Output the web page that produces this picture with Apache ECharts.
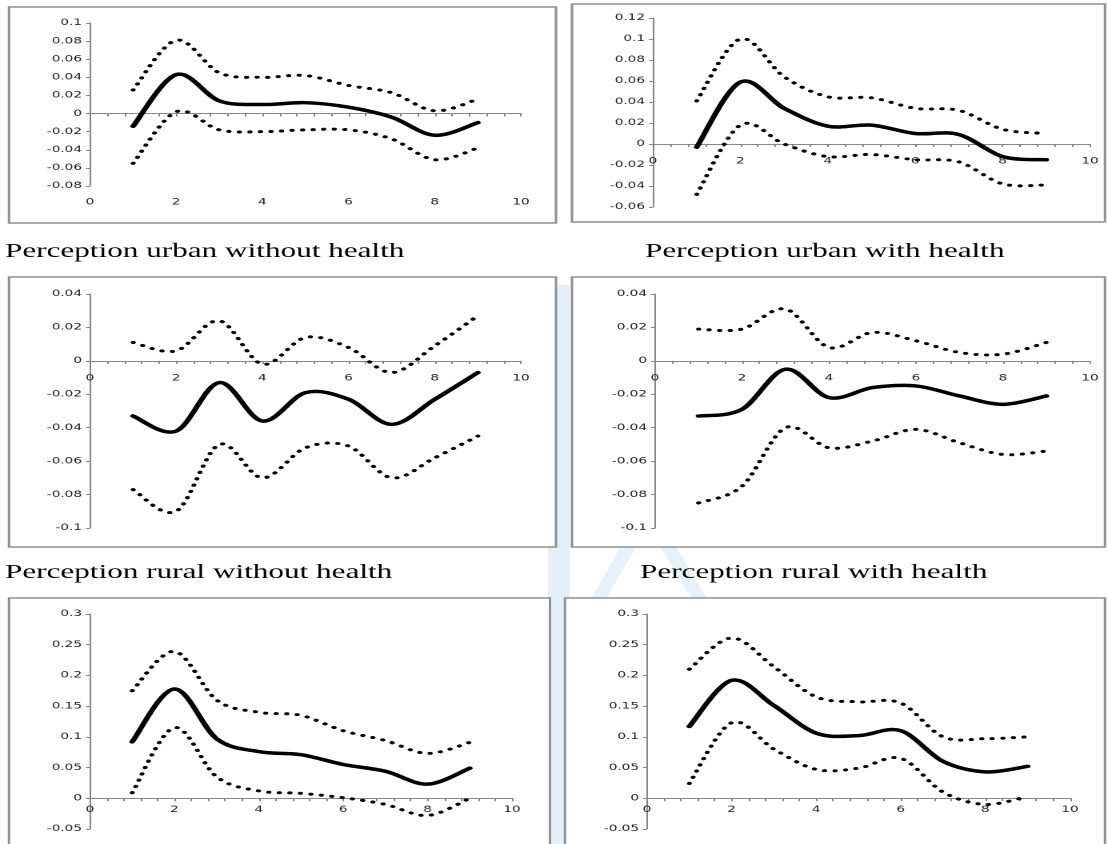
<!DOCTYPE html>
<html><head><meta charset="utf-8">
<script src="https://cdn.jsdelivr.net/npm/echarts@6/dist/echarts.min.js"></script>
<style>
html,body{margin:0;padding:0;background:#fff;overflow:hidden;width:1108px;height:844px}
#wrap{position:absolute;left:0;top:0;width:1108px;height:844px;overflow:hidden}
#chart{position:absolute;left:0;top:0;height:844px;transform-origin:0 0}
</style></head>
<body><div id="wrap"><div id="chart"></div></div>
<script>
// ---------- data ----------
const xs = [1, 2, 3, 4, 5, 6, 7, 8, 9];

const captions = [
  'Perception urban without health',
  'Perception urban with health',
  'Perception rural without health',
  'Perception rural with health'
];

// Panel 1 (top-left)
const p1Upper = [0.026, 0.081, 0.045, 0.040, 0.042, 0.031, 0.023, 0.003, 0.016];
const p1Mid   = [-0.014, 0.043, 0.014, 0.010, 0.012, 0.007, -0.004, -0.024, -0.010];
const p1Lower = [-0.055, 0.002, -0.018, -0.020, -0.018, -0.018, -0.028, -0.051, -0.038];
// Panel 2 (top-right)
const p2Upper = [0.041, 0.100, 0.064, 0.045, 0.044, 0.034, 0.032, 0.014, 0.010];
const p2Mid   = [-0.003, 0.059, 0.034, 0.017, 0.018, 0.010, 0.009, -0.012, -0.015];
const p2Lower = [-0.048, 0.018, 0.000, -0.012, -0.010, -0.015, -0.017, -0.038, -0.039];
// Panel 3 (middle-left)
const p3Upper = [0.011, 0.006, 0.024, -0.002, 0.014, 0.008, -0.007, 0.009, 0.027];
const p3Mid   = [-0.033, -0.042, -0.013, -0.036, -0.019, -0.023, -0.038, -0.023, -0.007];
const p3Lower = [-0.077, -0.090, -0.050, -0.070, -0.052, -0.051, -0.070, -0.058, -0.045];
// Panel 4 (middle-right)
const p4Upper = [0.019, 0.019, 0.031, 0.008, 0.017, 0.012, 0.005, 0.004, 0.011];
const p4Mid   = [-0.033, -0.029, -0.005, -0.022, -0.016, -0.015, -0.021, -0.026, -0.021];
const p4Lower = [-0.085, -0.075, -0.040, -0.052, -0.048, -0.041, -0.049, -0.056, -0.054];
// Panel 5 (bottom-left)
const p5Upper = [0.175, 0.239, 0.160, 0.140, 0.135, 0.110, 0.094, 0.073, 0.091];
const p5Mid   = [0.092, 0.178, 0.097, 0.076, 0.071, 0.055, 0.044, 0.023, 0.049];
const p5Lower = [0.009, 0.115, 0.035, 0.012, 0.008, 0.001, -0.010, -0.028, 0.000];
// Panel 6 (bottom-right)
const p6Upper = [0.210, 0.261, 0.214, 0.165, 0.157, 0.155, 0.100, 0.097, 0.100];
const p6Mid   = [0.117, 0.192, 0.151, 0.106, 0.102, 0.110, 0.060, 0.043, 0.052];
const p6Lower = [0.024, 0.123, 0.080, 0.047, 0.049, 0.065, 0.010, -0.010, 0.003];

// axis ranges [min, max, interval]
const xRange = [0, 10, 2];
const yRanges = [
  [-0.08, 0.1, 0.02],
  [-0.06, 0.12, 0.02],
  [-0.1, 0.04, 0.02],
  [-0.1, 0.04, 0.02],
  [-0.05, 0.3, 0.05],
  [-0.05, 0.3, 0.05]
];
const panelData = [
  [p1Upper, p1Mid, p1Lower],
  [p2Upper, p2Mid, p2Lower],
  [p3Upper, p3Mid, p3Lower],
  [p4Upper, p4Mid, p4Lower],
  [p5Upper, p5Mid, p5Lower],
  [p6Upper, p6Mid, p6Lower]
];

// ---------- layout (final image pixels) ----------
const SX = 1.6; // horizontal stretch of the original picture
const frames = [
  [9, 7, 556, 223], [572, 4, 1105, 222],
  [9, 277, 556, 547], [572, 277, 1105, 547],
  [9, 598, 550, 870], [565, 598, 1105, 870]
];
const grids = [
  [90, 23, 521, 186], [653, 18, 1090, 207],
  [90, 294, 521, 528], [655, 294, 1090, 528],
  [90, 614, 512, 829], [647, 614, 1070, 829]
];
const labelsAtBottom = [true, false, false, false, false, false];
const captionPos = [[5, 252], [645, 252], [5, 573], [640, 573]];

const el = document.getElementById('chart');
el.style.width = (1108 / SX) + 'px';
el.style.transform = 'scaleX(' + SX + ')';
const chart = echarts.init(el, null, { renderer: 'canvas', devicePixelRatio: 2 });

const AX = '#868686';
const FONT = 'DejaVu Sans';
const LBL = '#1e1e1e';
const FS = 8.5;

// Bezier through the points (Excel-like smoothing), in pixel space
function smoothPath(p, t) {
  let d = 'M' + p[0][0] + ' ' + p[0][1];
  for (let i = 0; i < p.length - 1; i++) {
    const p0 = p[i - 1] || p[i], p1 = p[i], p2 = p[i + 1], p3 = p[i + 2] || p[i + 1];
    const c1x = p1[0] + (p2[0] - p0[0]) * t, c1y = p1[1] + (p2[1] - p0[1]) * t;
    const c2x = p2[0] - (p3[0] - p1[0]) * t, c2y = p2[1] - (p3[1] - p1[1]) * t;
    d += ' C' + c1x + ' ' + c1y + ' ' + c2x + ' ' + c2y + ' ' + p2[0] + ' ' + p2[1];
  }
  return d;
}

const gridOpt = [], xAxes = [], yAxes = [], series = [], graphic = [];
const labelAxisIdx = [], lineAxisIdx = [];

// watermark (light blue, behind the panels)
graphic.push({ type: 'rect', z: -30, shape: { x: 548 / SX, y: 285, width: 22 / SX, height: 560 },
  style: { fill: '#e5eff9' } });
graphic.push({ type: 'polyline', z: -30,
  shape: { points: [[598 / SX, 600], [648 / SX, 512], [700 / SX, 600]] },
  style: { stroke: '#e8f0f9', lineWidth: 9, fill: null } });

frames.forEach(f => {
  graphic.push({ type: 'rect', z: -20,
    shape: { x: f[0] / SX, y: f[1], width: (f[2] - f[0]) / SX, height: f[3] - f[1] },
    style: { fill: '#fff', stroke: '#8f8f8f', lineWidth: 1.5 } });
});
captions.forEach((t, i) => {
  graphic.push({ type: 'text', z: 10, x: captionPos[i][0] / SX, y: captionPos[i][1],
    style: { text: t, fontSize: 19.5, fontFamily: '"Liberation Serif", "Times New Roman", serif',
      fill: '#000', verticalAlign: 'middle', align: 'left' } });
});

grids.forEach((g, i) => {
  gridOpt.push({ left: g[0] / SX, top: g[1], width: (g[2] - g[0]) / SX, height: g[3] - g[1], containLabel: false });
  const xi = xAxes.length;
  lineAxisIdx.push(xi);
  // axis line + ticks at y = 0
  xAxes.push({
    gridIndex: i, type: 'value', min: xRange[0], max: xRange[1], interval: xRange[2],
    axisLine: { show: true, onZero: true, lineStyle: { color: AX, width: 1 } },
    axisTick: { show: true, length: 3, lineStyle: { color: AX } },
    minorTick: { show: true, splitNumber: 5, length: 3, lineStyle: { color: AX } },
    splitLine: { show: false }, minorSplitLine: { show: false },
    axisLabel: { show: false }
  });
  // labels only
  labelAxisIdx.push(xAxes.length);
  xAxes.push({
    gridIndex: i, type: 'value', position: 'bottom', offset: 0,
    min: xRange[0], max: xRange[1], interval: xRange[2],
    axisLine: { show: false, onZero: false }, axisTick: { show: false },
    splitLine: { show: false },
    axisLabel: { show: true, margin: labelsAtBottom[i] ? 12 : 13, fontSize: FS, fontFamily: FONT, color: LBL }
  });
  const yr = yRanges[i];
  yAxes.push({
    gridIndex: i, type: 'value', min: yr[0], max: yr[1], interval: yr[2],
    axisLine: { show: true, onZero: false, lineStyle: { color: AX, width: 1 } },
    axisTick: { show: true, length: 2.5, lineStyle: { color: AX } },
    splitLine: { show: false },
    axisLabel: { margin: 5, fontSize: FS, fontFamily: FONT, color: LBL }
  });
  const [up, mid, lo] = panelData[i];
  const mk = (arr, solid) => ({
    type: 'custom', coordinateSystem: 'cartesian2d', xAxisIndex: xi, yAxisIndex: i,
    silent: true, z: 3, clip: false,
    data: xs.map((x, k) => [x, arr[k]]),
    renderItem: (params, api) => {
      if (params.dataIndex !== 0) return null;
      const pix = xs.map((x, k) => api.coord([x, arr[k]]));
      return {
        type: 'path',
        shape: { pathData: smoothPath(pix, 1 / 6) },
        style: solid
          ? { fill: 'none', stroke: '#000', lineWidth: 3.5, lineCap: 'round', lineJoin: 'round' }
          : { fill: 'none', stroke: '#000', lineWidth: 3, lineDash: [0.3, 6.3], lineCap: 'round' }
      };
    }
  });
  series.push(mk(up, false), mk(mid, true), mk(lo, false));
});

chart.setOption({
  animation: false,
  backgroundColor: '#fff',
  grid: gridOpt, xAxis: xAxes, yAxis: yAxes, series: series, graphic: graphic
});

// move the label axes to the zero line (except the top-left panel)
const upd = xAxes.map(() => ({}));
grids.forEach((g, i) => {
  if (labelsAtBottom[i]) return;
  const zeroY = chart.convertToPixel({ xAxisIndex: lineAxisIdx[i], yAxisIndex: i }, [0, 0])[1];
  upd[labelAxisIdx[i]] = { offset: -(g[3] - zeroY) };
});
chart.setOption({ xAxis: upd });
</script>
</body></html>
